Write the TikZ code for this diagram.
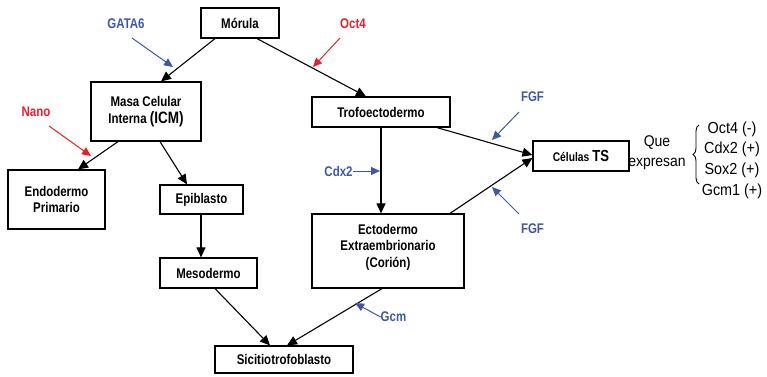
\documentclass[tikz,border=0pt]{standalone}
\usepackage{fontspec}
\setmainfont{Liberation Sans}[FakeStretch=0.82]
\newfontfamily\rfont{Liberation Sans}[FakeStretch=0.9]
\usetikzlibrary{arrows.meta,calc,decorations.pathreplacing}
\definecolor{gblue}{HTML}{3F57A6}
\definecolor{gred}{HTML}{E5202B}
\begin{document}
\begin{tikzpicture}[x=1pt,y=-1pt,
  box/.style={draw,line width=1.2pt,inner sep=0pt,align=center,
    font=\fontsize{14}{16.5}\selectfont\bfseries},
  flow/.style={line width=1.1pt,-{Triangle[length=10pt,width=9pt]}},
  blab/.style={text=gblue,font=\fontsize{14}{16}\selectfont\bfseries,inner sep=1pt},
  rlab/.style={text=gred,font=\fontsize{14}{16}\selectfont\bfseries,inner sep=1pt},
  barrow/.style={draw=gblue,line width=1pt,-{Triangle[length=9pt,width=8pt]}},
  rarrow/.style={draw=gred,line width=1pt,-{Triangle[length=9pt,width=8pt]}}]
\useasboundingbox (0,0) rectangle (767,376);
% boxes
\node[box,minimum width=78,minimum height=30] (morula) at (240,23) {Mórula};
\node[box,minimum width=110,minimum height=59] (icm) at (146,111.5)
  {Masa Celular\\Interna {\fontsize{16.5}{16.5}\selectfont(ICM)}};
\node[box,minimum width=97,minimum height=59] (endo) at (56.5,199.5) {Endodermo\\Primario};
\node[box,minimum width=83,minimum height=29] (epi) at (201.5,199.5) {Epiblasto};
\node[box,minimum width=97,minimum height=30] (meso) at (208.5,273) {Mesodermo};
\node[box,minimum width=138,minimum height=27] (sici) at (284,359.5) {Sicitiotrofoblasto};
\node[box,minimum width=138,minimum height=30] (trofo) at (381,112) {Trofoectodermo};
\node[box,minimum width=152,minimum height=74] (ecto) at (388,251)
  {Ectodermo\\Extraembrionario\\(Corión)\\[-6pt]\mbox{}};
\node[box,minimum width=96,minimum height=30] (ts) at (581,156)
  {{\fontsize{12.5}{14}\selectfont Células} {\fontsize{16}{16}\selectfont TS}};
% black arrows
\draw[flow] ($(morula.south)+(-25,0)$) -- ($(icm.north)+(15,0)$);
\draw[flow] ($(morula.south)+(17,0)$) -- ($(trofo.north)+(-15,0)$);
\draw[flow] ($(icm.south)+(-28,0)$) -- ($(endo.north)+(21.5,0)$);
\draw[flow] ($(icm.south)+(14,0)$) -- ($(epi.north)+(-14.5,0)$);
\draw[flow] ($(epi.south)+(-0.5,0)$) -- ($(epi.south|-meso.north)+(-0.5,0)$);
\draw[flow] ($(meso.south)+(6.5,0)$) -- ($(sici.north)+(-14,0)$);
\draw[flow] ($(ecto.south)+(-6,0)$) -- ($(sici.north)+(3,0)$);
\draw[flow] (trofo.south) -- (trofo.south|-ecto.north);
\draw[flow] ($(trofo.south)+(56,0)$) -- ($(ts.west)+(0,-1)$);
\draw[flow] ($(ecto.north)+(62,0)$) -- ($(ts.west)+(0,2)$);
% coloured regulators
\node[blab] (gata) at (126,24) {GATA6};
\coordinate (gataS) at (132,38);
\coordinate (gataE) at (173,67);
\draw[barrow] (gataS) -- (gataE);
\node[rlab] (oct) at (353,24) {Oct4};
\coordinate (octS) at (340,38);
\coordinate (octE) at (313,67);
\draw[rarrow] (octS) -- (octE);
\node[rlab] (nano) at (36,112) {Nano};
\coordinate (nanoS) at (49,126);
\coordinate (nanoE) at (91,156);
\draw[rarrow] (nanoS) -- (nanoE);
\node[blab,inner sep=0pt] (cdx) at (338.5,171) {Cdx2};
\coordinate (cdxE) at (380,171);
\draw[barrow] (cdx.east) -- (cdxE);
\node[blab] (fgf1) at (532.5,97) {FGF};
\coordinate (fgf1S) at (519,112);
\coordinate (fgf1E) at (492,140);
\draw[barrow] (fgf1S) -- (fgf1E);
\node[blab] (fgf2) at (532.5,229) {FGF};
\coordinate (fgf2S) at (519,214);
\coordinate (fgf2E) at (492,187);
\draw[barrow] (fgf2S) -- (fgf2E);
\node[blab,inner sep=0pt] (gcm) at (393.5,317) {Gcm};
\coordinate (gcmE) at (355,303);
\draw[barrow] (gcm.west) -- (gcmE);
% expression list
\node[font=\rfont\fontsize{15.5}{20}\selectfont,align=center,inner sep=0pt] (que) at (657,153) {Que\\expresan};
\coordinate (brB) at (699,184);
\coordinate (brT) at (699,125);
\draw[line width=0.9pt,decorate,decoration={brace,amplitude=6pt}] (brB) -- (brT);
\node[font=\rfont\fontsize{16}{20.6}\selectfont,align=center,inner sep=0pt] (list) at (732,160)
  {Oct4 (-)\\Cdx2 (+)\\Sox2 (+)\\Gcm1 (+)};
\end{tikzpicture}
\end{document}
